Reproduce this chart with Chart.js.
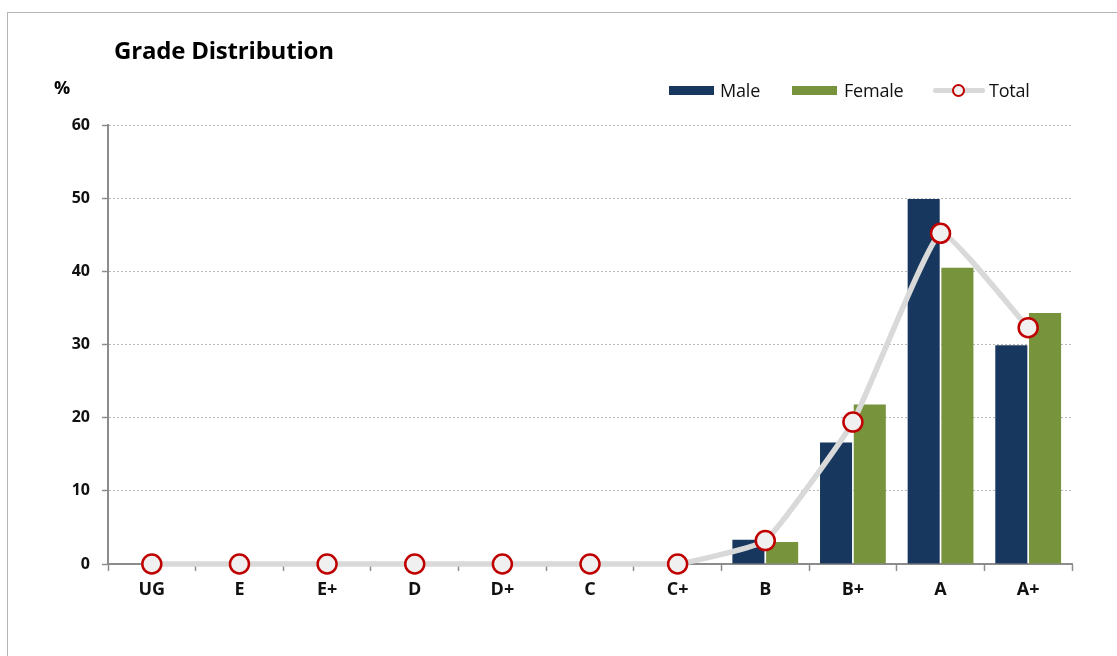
<!DOCTYPE html>
<html><head><meta charset="utf-8">
<script src="https://cdn.jsdelivr.net/npm/chart.js@4/dist/chart.umd.min.js"></script>
<style>
html,body{margin:0;padding:0;background:#fff;width:1117px;height:656px;overflow:hidden;font-family:"Open Sans",sans-serif;}
#wrap{position:absolute;left:0;top:0;width:1117px;height:656px;}
#frame{position:absolute;left:7px;top:12px;width:1120px;height:660px;border-top:1.5px solid #b5b5b5;border-left:1.5px solid #b5b5b5;}
#title{position:absolute;left:114px;top:33px;font-size:24px;font-weight:bold;color:#000;letter-spacing:-0.2px;}
#unit{position:absolute;left:54px;top:75px;font-size:18px;font-weight:bold;color:#000;}
.lg{position:absolute;top:78px;font-size:18px;color:#111;letter-spacing:-0.2px;}
.sw{position:absolute;top:86px;height:9px;width:45px;}
</style></head><body>
<div id="wrap">
<div id="frame"></div>
<canvas id="c" width="1117" height="656"></canvas>
<div id="title">Grade Distribution</div>
<div id="unit">%</div>
<div class="sw" style="left:669px;background:#17375e;"></div>
<div class="lg" style="left:720px;">Male</div>
<div class="sw" style="left:792px;background:#77933c;"></div>
<div class="lg" style="left:844px;">Female</div>
<div class="sw" style="left:933px;top:88px;height:5px;width:52px;background:#d9d9d9;border-radius:2px;"></div>
<div style="position:absolute;left:952px;top:84px;width:9px;height:9px;border:2.5px solid #c00000;border-radius:50%;background:#f2f2f2;"></div>
<div class="lg" style="left:989px;">Total</div>
</div>
<script>
const categories = ["UG","E","E+","D","D+","C","C+","B","B+","A","A+"];
const maleValues = [0,0,0,0,0,0,0,3.3,16.6,49.9,29.9];
const femaleValues = [0,0,0,0,0,0,0,3.0,21.8,40.5,34.3];
const totalValues = [0,0,0,0,0,0,0,3.2,19.4,45.2,32.3];
const yTicks = [0,10,20,30,40,50,60];

Chart.defaults.font.family = 'Open Sans';
const ctx = document.getElementById('c');
new Chart(ctx, {
  type: 'bar',
  data: {
    labels: categories,
    datasets: [
      {type:'line', label:'Total', data: totalValues, order:0, clip:false,
       borderColor:'#d9d9d9', borderWidth:5.5, tension:0.12,
       pointRadius:9.5, pointHoverRadius:9.5, pointBackgroundColor:'#f0f0f0', pointBorderColor:'#c00000', pointBorderWidth:2.5},
      {type:'bar', label:'Male', data: maleValues, order:1, backgroundColor:'#17375e',
       categoryPercentage:0.77, barPercentage:0.95},
      {type:'bar', label:'Female', data: femaleValues, order:1, backgroundColor:'#77933c',
       categoryPercentage:0.77, barPercentage:0.95}
    ]
  },
  options: {
    responsive:false, animation:false,
    layout:{padding:{left:0,right:45,top:125,bottom:0}},
    plugins:{legend:{display:false}, title:{display:false}, tooltip:{enabled:false}},
    scales:{
      x:{
        afterFit:(s)=>{s.height=92;},
        grid:{display:true, offset:true, drawOnChartArea:false, drawTicks:true, tickLength:7, tickColor:'#8c8c8c', tickWidth:1.5},
        border:{display:true, color:'#8c8c8c', width:2},
        ticks:{color:'#111', padding:8, font:{size:18, weight:'bold'}}
      },
      y:{
        min:0, max:60,
        afterFit:(s)=>{s.width=108;},
        afterBuildTicks:(s)=>{s.ticks = yTicks.map(v=>({value:v}));},
        grid:{color:'#b8b8b8', lineWidth:1, drawTicks:true, tickLength:6, tickColor:'#8c8c8c', tickWidth:1.5},
        border:{display:true, color:'#8c8c8c', width:2, dash:[2,2]},
        ticks:{color:'#111', padding:12, font:{size:16, weight:'bold'}}
      }
    }
  }
});
</script>
</body></html>
